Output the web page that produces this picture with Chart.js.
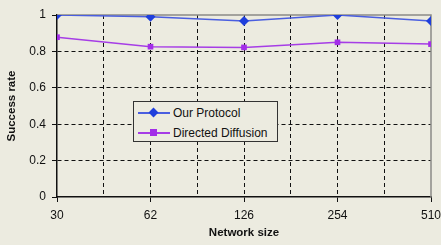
<!DOCTYPE html>
<html>
<head>
<meta charset="utf-8">
<script src="https://cdn.jsdelivr.net/npm/chart.js@4/dist/chart.umd.min.js"></script>
<style>
  html, body { margin: 0; padding: 0; background: #ecebe0; }
  #wrap { position: relative; width: 441px; height: 245px; overflow: hidden; }
  #legend {
    position: absolute; left: 133px; top: 101px; width: 143px; height: 39px;
    border: 1px solid #333; background: #ecebe0;
    font: 12px "Liberation Sans", Arial, sans-serif; color: #111;
  }
  .row { position: absolute; left: 4px; height: 14px; display: flex; align-items: center; }
  .sample { position: relative; width: 32px; height: 14px; margin-right: 3px; }
  .sample .ln { position: absolute; left: 0; right: 0; top: 6px; height: 2px; }
  .sample .mk { position: absolute; }
</style>
</head>
<body>
<div id="wrap">
  <canvas id="myChart" width="441" height="245"></canvas>
  <div id="legend"></div>
</div>
<script>
const networkSizes = ['30', '62', '126', '254', '510']
const ourProtocol = [1.0, 0.99, 0.967, 1.0, 0.967]
const directedDiffusion = [0.878, 0.826, 0.822, 0.85, 0.84]
const yTicks = [0, 0.2, 0.4, 0.6, 0.8, 1]

const toPoints = vals => vals.map((v, i) => ({x: i, y: v}))

// grey frame on the top and right of the plot
const frame = {
  id: 'frame',
  beforeDatasetsDraw(chart) {
    const {ctx, chartArea: a} = chart
    ctx.save()
    ctx.strokeStyle = '#8a8a86'
    ctx.lineWidth = 1.5
    ctx.beginPath()
    ctx.moveTo(a.left, a.top)
    ctx.lineTo(a.right, a.top)
    ctx.lineTo(a.right, a.bottom)
    ctx.stroke()
    ctx.restore()
  }
}

const font = {family: '"Liberation Sans", Arial, sans-serif', size: 12}
const titleFont = {family: font.family, size: 11.5, weight: 'bold'}

const chart = new Chart(document.getElementById('myChart'), {
  type: 'line',
  data: {
    datasets: [{
      label: 'Our Protocol',
      data: toPoints(ourProtocol),
      borderColor: '#4a5ee0',
      backgroundColor: '#1f3fdc',
      borderWidth: 1.5,
      pointStyle: 'rectRot',
      pointRadius: 5,
      pointBorderWidth: 0
    }, {
      label: 'Directed Diffusion',
      data: toPoints(directedDiffusion),
      borderColor: '#a63de6',
      backgroundColor: '#a32ee8',
      borderWidth: 1.5,
      pointStyle: 'rect',
      pointRadius: 4,
      pointBorderWidth: 0
    }]
  },
  options: {
    responsive: false,
    animation: false,
    layout: {padding: {top: 15, right: 10, left: 0, bottom: 0}},
    plugins: {legend: {display: false}, tooltip: {enabled: false}},
    scales: {
      x: {
        type: 'linear',
        min: 0,
        max: networkSizes.length - 1,
        afterBuildTicks: s => {
          s.ticks = []
          for (let v = 0; v <= networkSizes.length - 1; v += 0.5) s.ticks.push({value: v})
        },
        afterFit: s => { s.height = 48; s.paddingRight = 0; s.paddingLeft = 0 },
        ticks: {
          autoSkip: false,
          maxRotation: 0,
          padding: 6,
          color: '#111',
          font: font,
          callback: v => Number.isInteger(v) ? networkSizes[v] : ''
        },
        grid: {
          color: ctx => ctx.tick && ctx.tick.value > 0 && ctx.tick.value < networkSizes.length - 1 ? '#111' : 'rgba(0,0,0,0)',
          tickColor: ctx => ctx.tick && Number.isInteger(ctx.tick.value) ? '#111' : 'rgba(0,0,0,0)',
          tickLength: 5,
          tickBorderDash: [],
          lineWidth: 1
        },
        border: {color: '#111', width: 1.5, dash: [4, 3]},
        title: {
          display: true,
          text: 'Network size',
          color: '#111',
          font: titleFont,
          padding: {top: 0, bottom: 5}
        }
      },
      y: {
        min: 0,
        max: 1,
        afterBuildTicks: s => { s.ticks = yTicks.map(v => ({value: v})) },
        afterFit: s => { s.width = 57 },
        ticks: {
          color: '#111',
          font: font,
          padding: 6,
          callback: v => String(v)
        },
        grid: {
          color: ctx => ctx.tick && ctx.tick.value > 0 && ctx.tick.value < 1 ? '#111' : 'rgba(0,0,0,0)',
          tickColor: '#111',
          tickLength: 5,
          tickBorderDash: [],
          lineWidth: 1
        },
        border: {color: '#111', width: 1.5, dash: [4, 3]},
        title: {
          display: true,
          text: 'Success rate',
          color: '#111',
          font: titleFont,
          padding: {top: 5, bottom: 0}
        }
      }
    }
  },
  plugins: [frame]
})

// html legend from the datasets
const legend = document.getElementById('legend')
chart.data.datasets.forEach((ds, i) => {
  const row = document.createElement('div')
  row.className = 'row'
  row.style.top = (4 + i * 20) + 'px'
  const sample = document.createElement('div')
  sample.className = 'sample'
  const ln = document.createElement('div')
  ln.className = 'ln'
  ln.style.background = ds.borderColor
  const mk = document.createElement('div')
  mk.className = 'mk'
  mk.style.background = ds.backgroundColor
  mk.style.width = '7px'; mk.style.height = '7px'
  mk.style.left = '12px'; mk.style.top = '3px'
  if (ds.pointStyle === 'rectRot') mk.style.transform = 'rotate(45deg)'
  sample.appendChild(ln)
  sample.appendChild(mk)
  const label = document.createElement('span')
  label.textContent = ds.label
  row.appendChild(sample)
  row.appendChild(label)
  legend.appendChild(row)
})
</script>
</body>
</html>
